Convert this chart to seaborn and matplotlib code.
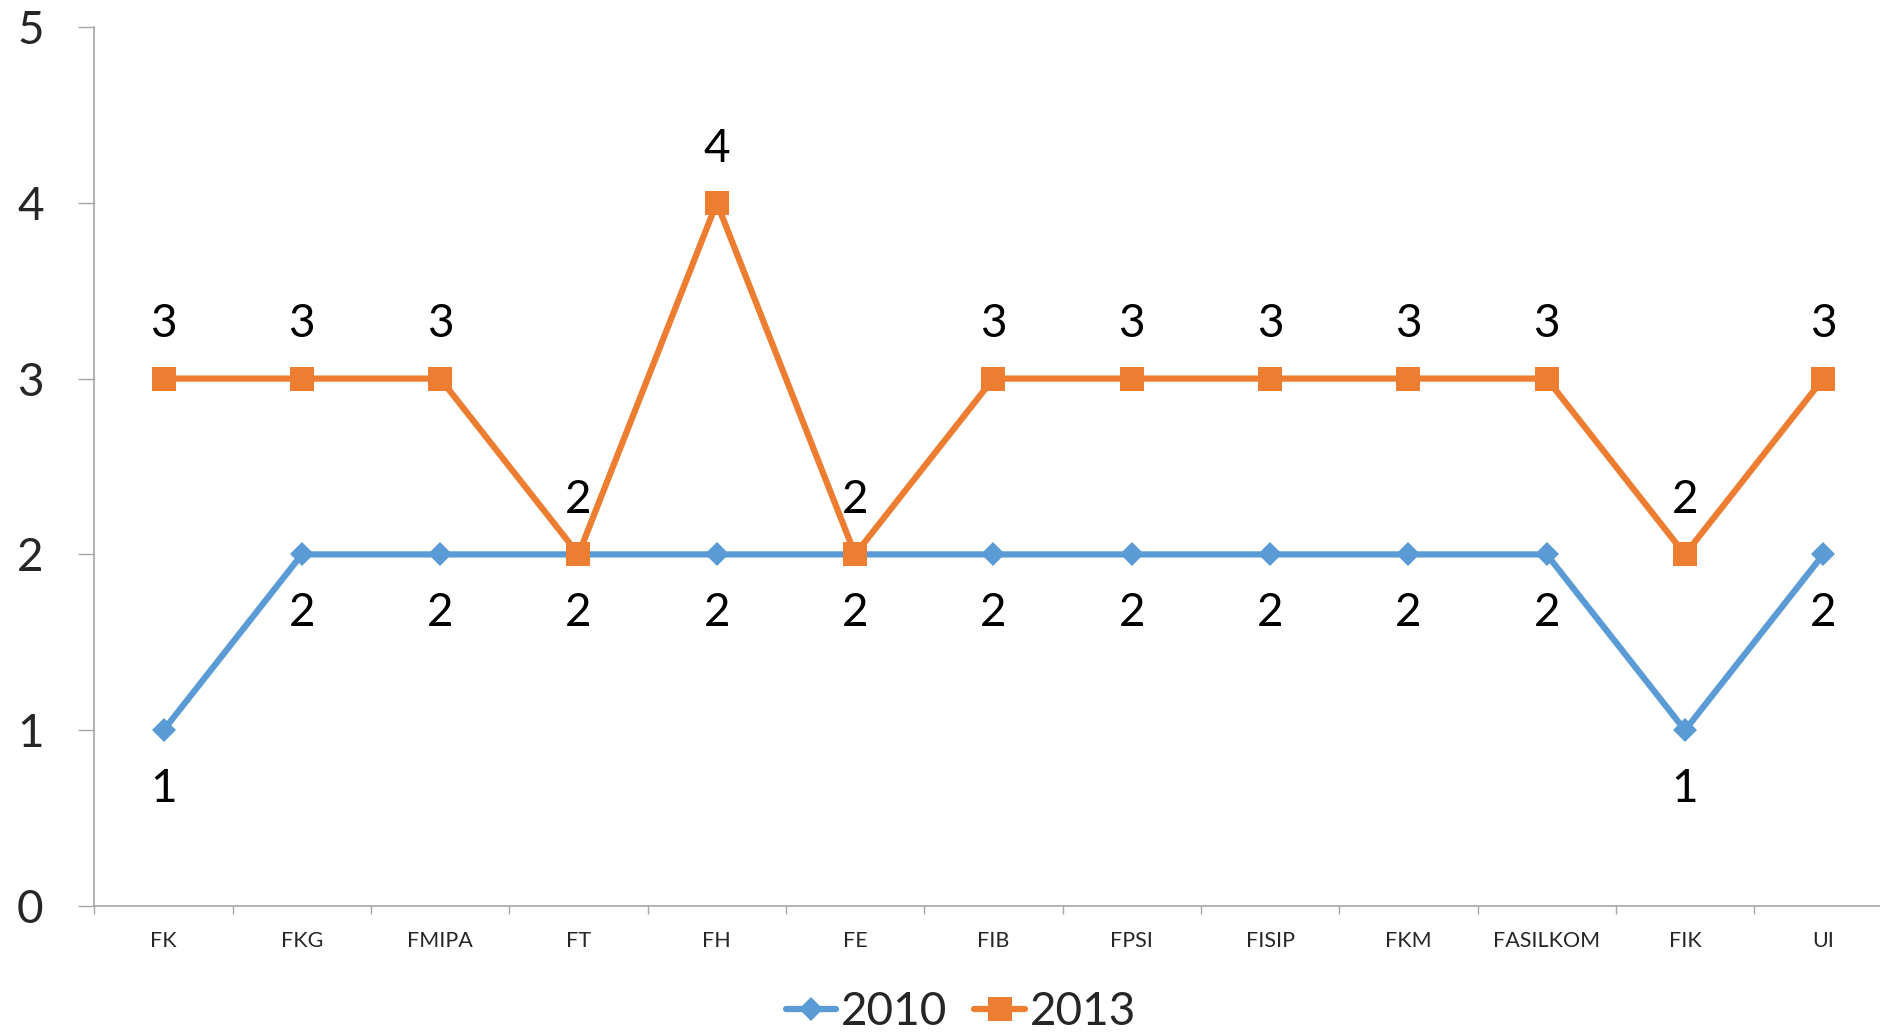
import matplotlib
matplotlib.use("Agg")
import matplotlib.pyplot as plt
import seaborn as sns
import pandas as pd
from matplotlib.lines import Line2D
from matplotlib.ticker import FixedLocator

categories = ["FK", "FKG", "FMIPA", "FT", "FH", "FE", "FIB", "FPSI", "FISIP",
              "FKM", "FASILKOM", "FIK", "UI"]
values_2010 = [1, 2, 2, 2, 2, 2, 2, 2, 2, 2, 2, 1, 2]
values_2013 = [3, 3, 3, 2, 4, 2, 3, 3, 3, 3, 3, 2, 3]
series_names = ["2010", "2013"]
yticks = [0, 1, 2, 3, 4, 5]

BLUE = "#5B9BD5"
ORANGE = "#ED7D31"
GRAY = "#A6A6A6"

sns.set_theme(style="white")
plt.rcParams["font.family"] = ["Lato", "DejaVu Sans"]

df = pd.DataFrame({
    "cat": categories * 2,
    "pos": list(range(len(categories))) * 2,
    "value": values_2010 + values_2013,
    "year": [series_names[0]] * len(categories) + [series_names[1]] * len(categories),
})

fig = plt.figure(figsize=(18.8, 10.33), dpi=100)
ax = fig.add_axes([0.0502, 0.1229, 0.9498, 0.8510])

d10 = df[df["year"] == "2010"]
d13 = df[df["year"] == "2013"]
sns.lineplot(data=d10, x="pos", y="value", ax=ax, color=BLUE, linewidth=4.5,
             marker="D", markersize=12.5, markeredgewidth=0, sort=False,
             legend=False, zorder=3)
sns.lineplot(data=d13, x="pos", y="value", ax=ax, color=ORANGE, linewidth=4.5,
             marker="s", markersize=17, markeredgewidth=0, sort=False,
             legend=False, zorder=4)

for p, v in zip(d10["pos"], d10["value"]):
    ax.annotate(str(v), (p, v), xytext=(0, -42), textcoords="offset points",
                ha="center", va="center", fontsize=33, color="black")
for p, v in zip(d13["pos"], d13["value"]):
    ax.annotate(str(v), (p, v), xytext=(0, 39), textcoords="offset points",
                ha="center", va="center", fontsize=33, color="black")

ax.set_xlim(-0.5, 12.41)
ax.set_ylim(0, 5)
ax.set_yticks(yticks)
ax.set_yticklabels([str(t) for t in yticks], fontsize=33)
ax.set_xticks(range(len(categories)))
ax.set_xticklabels(categories, fontsize=15.5)
ax.xaxis.set_minor_locator(FixedLocator([i - 0.5 for i in range(len(categories) + 1)]))
ax.tick_params(axis="x", which="major", length=0, pad=18)
ax.tick_params(axis="x", which="minor", length=6, width=1, color=GRAY, direction="out", bottom=True)
ax.tick_params(axis="y", which="major", length=11.5, width=1, color=GRAY, direction="out", pad=25, left=True)
ax.set_xlabel("")
ax.set_ylabel("")

for s in ["top", "right"]:
    ax.spines[s].set_visible(False)
for s in ["left", "bottom"]:
    ax.spines[s].set_color(GRAY)
    ax.spines[s].set_linewidth(1.2)
ax.grid(False)

handles = [
    Line2D([], [], color=BLUE, linewidth=4.5, marker="D", markersize=12.5,
           markeredgewidth=0, solid_capstyle="round"),
    Line2D([], [], color=ORANGE, linewidth=4.5, marker="s", markersize=17,
           markeredgewidth=0, solid_capstyle="round"),
]
fig.legend(handles, series_names, loc="center", bbox_to_anchor=(0.511, 0.0205),
           ncol=2, frameon=False, fontsize=33, handlelength=1.1,
           handletextpad=0.1, columnspacing=0.6, borderpad=0)

fig.savefig("out.png", dpi=100)
